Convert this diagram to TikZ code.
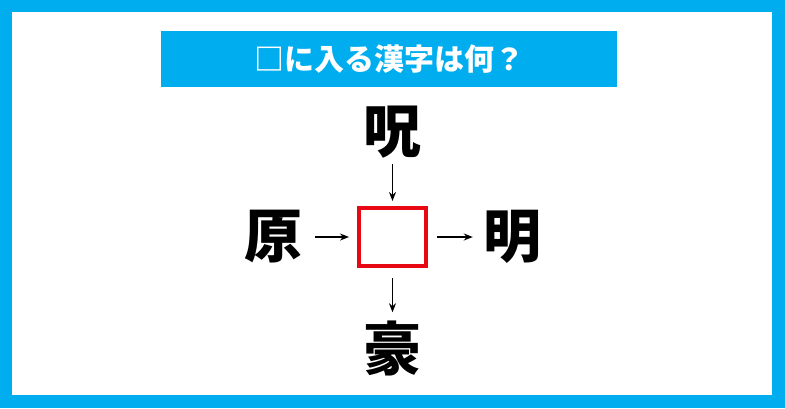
\documentclass[tikz,border=0pt]{standalone}
\usepackage{fontspec}
\newfontfamily\jpfont{Noto Sans CJK JP}
\usetikzlibrary{positioning,arrows.meta}
\definecolor{frameblue}{RGB}{0,174,239}
\definecolor{boxred}{RGB}{232,8,20}

\begin{document}
\begin{tikzpicture}[
  x=1pt, y=-1pt,
  kanji/.style={font=\jpfont\bfseries\fontsize{58}{58}\selectfont, inner sep=0pt},
  blank/.style={draw=boxred, line width=4pt, minimum width=67pt, minimum height=58pt, inner sep=0pt},
  titlebar/.style={fill=frameblue, text=white, minimum width=456pt, minimum height=56pt, font=\jpfont\bfseries\fontsize{30}{30}\selectfont},
  >={Stealth[length=9pt,width=7pt]}
]
\useasboundingbox (0,0) rectangle (785,408);

% Frame
\fill[frameblue] (0,0) rectangle (785,408);
\fill[white] (12,12) rectangle (772,395);

% Title
\node[titlebar] (title) at (389,59) {□に入る漢字は何？};

% Blank square and the four kanji
\node[blank] (box) at (392.5,237) {};
\node[kanji, above=73.5pt of box, anchor=center] (top) {呪};
\node[kanji, left=83.5pt of box, anchor=center] (left) {原};
\node[kanji, right=84pt of box, anchor=center] (right) {明};
\node[kanji, below=80pt of box, anchor=center] (bottom) {豪};

% Arrows
\draw[line width=1.5pt, ->, shorten <=5.5pt, shorten >=5pt] (top) -- (box);
\draw[line width=1.5pt, ->, shorten <=12.5pt, shorten >=8pt] (left) -- (box);
\draw[line width=1.5pt, ->, shorten <=9pt, shorten >=10pt] (box) -- (right);
\draw[line width=1.5pt, ->, shorten <=10pt, shorten >=8pt] (box) -- (bottom);

\end{tikzpicture}
\end{document}
